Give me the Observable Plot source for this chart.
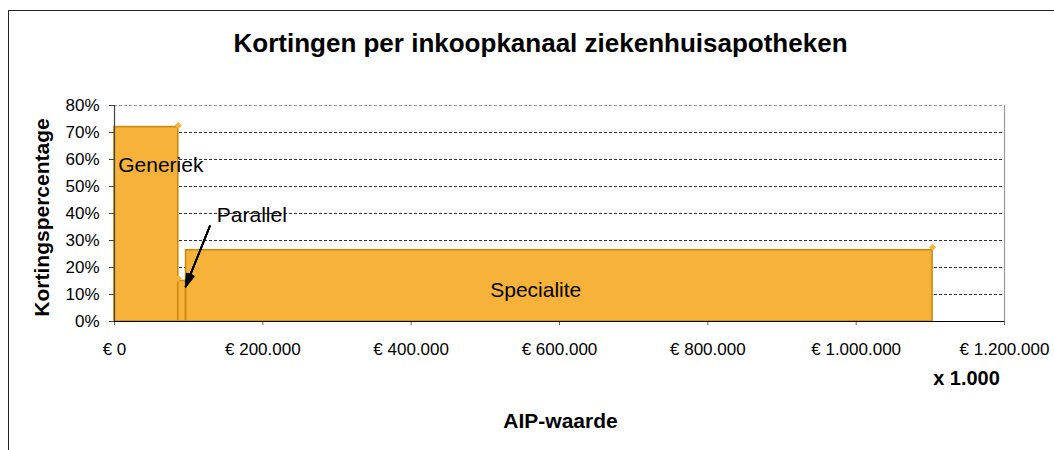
<!DOCTYPE html>
<html>
<head>
<meta charset="utf-8">
<script src="https://cdn.jsdelivr.net/npm/d3@7"></script>
<script src="https://cdn.jsdelivr.net/npm/@observablehq/plot@0.6"></script>
<style>
  html, body { margin: 0; padding: 0; background: #fff; }
  #wrap { position: relative; width: 1054px; height: 450px; overflow: hidden; }
  #border { position: absolute; left: 8px; top: 10px; width: 2000px; height: 2000px;
            border-left: 1.5px solid #222; border-top: 1.5px solid #222; pointer-events: none; z-index: 2; }
</style>
</head>
<body>
<div id="wrap"><div id="border"></div></div>
<script>
// ---- data (AIP-waarde in thousands of euros, discount in %) ----
const channels = ["Generiek", "Parallel", "Specialite"];
const aipStart = [0, 86000, 96500];
const aipEnd = [86000, 96500, 1103000];
const discount = [72, 15, 26.4];

// series markers (diamonds) at bar tops
const markerX = [86000, 86000, 1103000];
const markerY = [72.6, 15.9, 27.5];

// tick values
const xTicks = [0, 200000, 400000, 600000, 800000, 1000000, 1200000];
const yTicks = [0, 10, 20, 30, 40, 50, 60, 70, 80];
const gridTicks = [10, 20, 30, 40, 50, 60, 70];

// annotation labels (data coordinates)
const startLabels = ["Generiek", "Parallel"];
const startLabelX = [5000, 138000];
const startLabelY = [58, 39.5];
const midLabels = ["Specialite"];
const midLabelX = [568000];
const midLabelY = [11.5];

// arrow pointing to Parallel
const arrowFrom = {x: 128500, y: 35.3};
const arrowTo = {x: 96000, y: 13.0};
const headAngles = [6, 12, 18, 24, 30, 36];

const nl = d3.formatLocale({decimal: ",", thousands: ".", grouping: [3], currency: ["€ ", ""]});
const fmtX = nl.format("$,.0f");

const idx = d3.range(channels.length);

const fill = "#F7B239";
const edge = "#C98A10";

const chart = Plot.plot({
  width: 1054,
  height: 450,
  marginLeft: 114,
  marginRight: 50,
  marginTop: 105,
  marginBottom: 129,
  style: {fontFamily: "'Liberation Sans', Arial, sans-serif", fontSize: "17px", color: "#000", background: "transparent"},
  x: {domain: [0, 1200000]},
  y: {domain: [0, 80]},
  marks: [
    Plot.gridY(gridTicks, {stroke: "#000", strokeOpacity: 0.8, strokeDasharray: "3,2"}),
    Plot.ruleY([80], {stroke: "#999", strokeDasharray: "3,2"}),
    Plot.ruleX([1200000], {stroke: "#999", strokeWidth: 1.2}),
    Plot.rect(idx, {
      x1: i => aipStart[i], x2: i => aipEnd[i], y1: 0, y2: i => discount[i],
      fill: fill, stroke: edge, strokeWidth: 1.6, inset: 0
    }),
    Plot.dot(idx, {x: i => markerX[i], y: i => markerY[i], symbol: "diamond2", r: 3.2, fill: fill, stroke: "none"}),
    Plot.axisX({ticks: xTicks, tickFormat: fmtX, tickSize: 4, tickPadding: 17, label: null, stroke: "#666", fontSize: 17}),
    Plot.axisY({ticks: yTicks, tickFormat: d => d + "%", tickSize: 5, tickPadding: 10, label: null, stroke: "#444", fontSize: 17}),
    Plot.ruleY([0], {stroke: "#000", strokeWidth: 1.2}),
    Plot.ruleX([0], {stroke: "#444", strokeWidth: 1.2}),
    Plot.text(d3.range(startLabels.length), {
      x: i => startLabelX[i], y: i => startLabelY[i], text: i => startLabels[i],
      textAnchor: "start", fontSize: 21, fill: "#000"
    }),
    Plot.text(d3.range(midLabels.length), {
      x: i => midLabelX[i], y: i => midLabelY[i], text: i => midLabels[i],
      textAnchor: "middle", fontSize: 21, fill: "#000"
    }),
    ...headAngles.map(a => Plot.arrow([0], {
      x1: () => arrowFrom.x, y1: () => arrowFrom.y, x2: () => arrowTo.x, y2: () => arrowTo.y,
      stroke: "#000", strokeWidth: 1.6, headLength: 12, headAngle: a, bend: 0
    })),
    Plot.text(["Kortingen per inkoopkanaal ziekenhuisapotheken"], {
      frameAnchor: "top", lineAnchor: "middle", textAnchor: "middle", dx: -19, dy: -62, fontSize: 26, fontWeight: "bold"
    }),
    Plot.text(["Kortingspercentage"], {
      frameAnchor: "left", lineAnchor: "middle", textAnchor: "middle", dx: -72, dy: 4, rotate: -90, fontSize: 21, fontWeight: "bold"
    }),
    Plot.text(["AIP-waarde"], {
      frameAnchor: "bottom", lineAnchor: "middle", textAnchor: "middle", dx: 1, dy: 100, fontSize: 21, fontWeight: "bold"
    }),
    Plot.text(["x 1.000"], {
      frameAnchor: "bottom-right", lineAnchor: "middle", textAnchor: "middle", dx: -38, dy: 57, fontSize: 20, fontWeight: "bold"
    })
  ]
});

document.getElementById("wrap").insertBefore(chart, document.getElementById("border"));
</script>
</body>
</html>
